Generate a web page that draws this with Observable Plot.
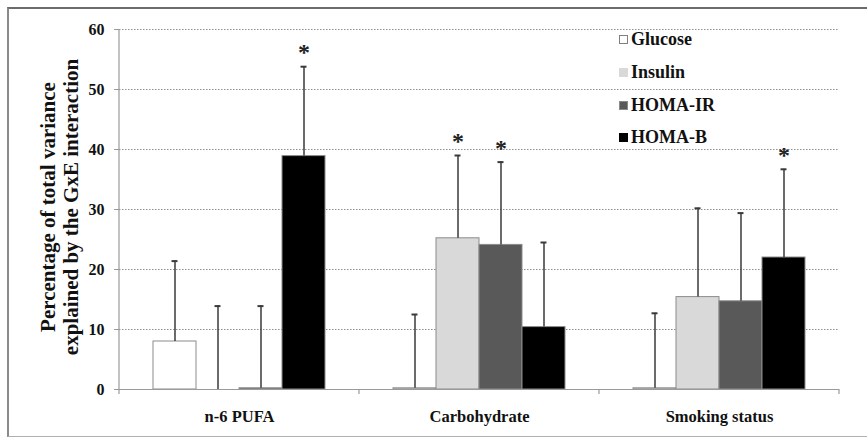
<!DOCTYPE html>
<html><head><meta charset="utf-8">
<script src="https://cdn.jsdelivr.net/npm/d3@7"></script>
<script src="https://cdn.jsdelivr.net/npm/@observablehq/plot@0.6"></script>
<style>
body{margin:0;background:#fff;}
#wrap{position:relative;width:867px;height:438px;overflow:hidden;font-family:'Liberation Serif',serif;background:#fff;}
#frame{position:absolute;left:7px;top:7px;width:900px;height:430px;border-top:2px solid #6b6b6b;border-left:2px solid #8a8a8a;border-bottom:1px solid #b0b0b0;box-sizing:border-box;pointer-events:none;}
#chart{position:absolute;left:0;top:0;}
#chart svg text{font-family:'Liberation Serif',serif !important;}
#ylab{position:absolute;left:60px;top:207px;width:360px;transform:translate(-50%,-50%) rotate(-90deg);text-align:center;font-family:'Liberation Serif',serif;font-weight:bold;font-size:21px;line-height:23px;color:#111;white-space:nowrap;}
.leg{position:absolute;left:619px;font-family:'Liberation Serif',serif;font-weight:bold;font-size:18px;color:#111;line-height:20px;white-space:nowrap;}
.leg span.sw{display:inline-block;width:9px;height:9px;margin-right:3px;vertical-align:1px;box-sizing:border-box;}
</style></head>
<body>
<div id="wrap">
  <div id="chart"></div>
  <div id="frame"></div>
  <div id="ylab">Percentage of total variance<br>explained by the GxE interaction</div>
  <div id="legend"></div>
</div>
<script>
const categories = ["n-6 PUFA", "Carbohydrate", "Smoking status"];
const series = ["Glucose", "Insulin", "HOMA-IR", "HOMA-B"];
// bar heights per series, in category order
const glucose = [8.0, 0.2, 0.2];
const insulin = [0.0, 25.2, 15.4];
const homaIR = [0.2, 24.1, 14.7];
const homaB = [38.9, 10.4, 22.0];
// upper end of the error bars
const glucoseTop = [21.4, 12.5, 12.7];
const insulinTop = [13.9, 39.0, 30.2];
const homaIRTop = [13.9, 37.9, 29.4];
const homaBTop = [53.8, 24.5, 36.7];
// significance asterisks
const glucoseSig = [false, false, false];
const insulinSig = [false, true, false];
const homaIRSig = [false, true, false];
const homaBSig = [true, false, true];
const yTicks = [0, 10, 20, 30, 40, 50, 60];
const colors = ["#ffffff", "#d9d9d9", "#595959", "#000000"];
const swatchBorders = ["#808080", "#d9d9d9", "#8a8a8a", "#000000"];

const values = [glucose, insulin, homaIR, homaB];
const tops = [glucoseTop, insulinTop, homaIRTop, homaBTop];
const sigs = [glucoseSig, insulinSig, homaIRSig, homaBSig];
const rows = [];
categories.forEach((c, i) => series.forEach((s, j) => rows.push({category: c, series: s, value: values[j][i], top: tops[j][i], sig: sigs[j][i]})));

const plot = Plot.plot({
  width: 867, height: 438,
  marginLeft: 119, marginRight: 28, marginTop: 29, marginBottom: 49,
  style: {fontFamily: "Liberation Serif", background: "transparent", color: "#111"},
  fx: {domain: categories, padding: 0, label: null},
  x: {domain: series, paddingInner: 0, paddingOuter: 0.74, axis: null},
  y: {domain: [0, 60], label: null, axis: null},
  color: {domain: series, range: colors},
  marks: [
    Plot.gridY(yTicks.filter(d => d > 0), {stroke: "#8f8f8f", strokeOpacity: 1, strokeDasharray: "1.5,1.5"}),
    Plot.barY(rows, {fx: "category", x: "series", y: "value", fill: "series", stroke: "#8c8c8c", strokeWidth: 1}),
    Plot.ruleX(rows, {fx: "category", x: "series", y1: "value", y2: "top", stroke: "#3a3a3a", strokeWidth: 1.5}),
    Plot.tickY(rows, {fx: "category", x: "series", y: "top", stroke: "#3a3a3a", strokeWidth: 2, insetLeft: 18.5, insetRight: 18.5}),
    Plot.text(rows.filter(d => d.sig), {fx: "category", x: "series", y: "top", text: () => "*", fontSize: 24, fontWeight: "bold", dy: -14, fill: "#222"}),
    Plot.ruleY([0], {stroke: "#9a9a9a", strokeWidth: 1.2}),
    Plot.axisY(yTicks, {tickSize: 5, tickPadding: 10, fontSize: 16, fontWeight: "bold", stroke: "#9a9a9a", fill: "#111", label: null}),
    Plot.axisFx({anchor: "bottom", tickSize: 0, tickPadding: 21, fontSize: 16.5, fontWeight: "bold", label: null, fill: "#111"})
  ]
});
document.getElementById("chart").appendChild(plot);

// axis line and category boundary ticks drawn from the plot's own scales
const fx = plot.scale("fx");
const yS = plot.scale("y");
const y0 = yS.apply(0);
const edges = categories.map(c => fx.apply(c)).concat([fx.apply(categories[categories.length - 1]) + fx.bandwidth]);
const svg = d3.select(plot);
const g = svg.append("g").attr("stroke", "#9a9a9a").attr("stroke-width", 1.2);
g.selectAll("line.t").data(edges).join("line").attr("class", "t")
  .attr("x1", d => d).attr("x2", d => d).attr("y1", y0).attr("y2", y0 + 5);
g.append("line").attr("x1", edges[0]).attr("x2", edges[0]).attr("y1", yS.apply(60)).attr("y2", y0);

// legend
const legendTops = [29, 62, 95, 127];
const leg = document.getElementById("legend");
series.forEach((s, j) => {
  const d = document.createElement("div");
  d.className = "leg";
  d.style.top = legendTops[j] + "px";
  d.innerHTML = `<span class="sw" style="background:${colors[j]};border:1px solid ${swatchBorders[j]}"></span>${s}`;
  leg.appendChild(d);
});
</script>
</body></html>
